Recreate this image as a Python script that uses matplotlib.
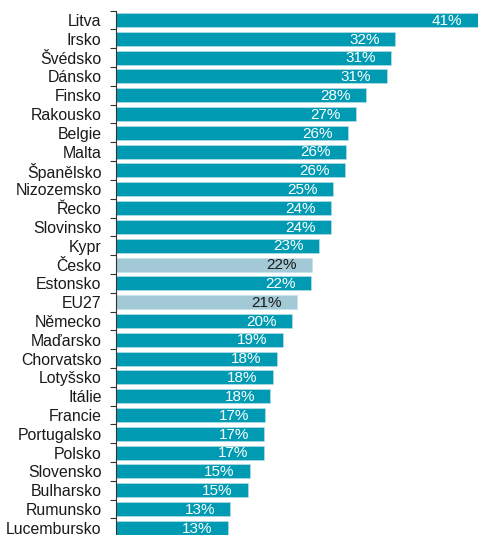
import numpy as np
import matplotlib.pyplot as plt
from matplotlib.ticker import FixedLocator

plt.rcParams['font.family'] = ['Liberation Sans', 'DejaVu Sans']

countries = ['Litva', 'Irsko', 'Švédsko', 'Dánsko', 'Finsko', 'Rakousko', 'Belgie',
             'Malta', 'Španělsko', 'Nizozemsko', 'Řecko', 'Slovinsko', 'Kypr', 'Česko',
             'Estonsko', 'EU27', 'Německo', 'Maďarsko', 'Chorvatsko', 'Lotyšsko',
             'Itálie', 'Francie', 'Portugalsko', 'Polsko', 'Slovensko', 'Bulharsko',
             'Rumunsko', 'Lucembursko']
values = [41.0, 31.7, 31.2, 30.7, 28.4, 27.2, 26.3, 26.1, 26.0, 24.6, 24.4, 24.4, 23.0,
          22.2, 22.1, 20.6, 20.0, 18.95, 18.3, 17.85, 17.55, 16.9, 16.85, 16.8, 15.2,
          14.95, 13.0, 12.75]
labels = ['41%', '32%', '31%', '31%', '28%', '27%', '26%', '26%', '26%', '25%', '24%',
          '24%', '23%', '22%', '22%', '21%', '20%', '19%', '18%', '18%', '18%', '17%',
          '17%', '17%', '15%', '15%', '13%', '13%']
highlight = ['Česko', 'EU27']

teal = '#009BB2'
light = '#A3C8D6'

fig = plt.figure(figsize=(4.78, 5.35), dpi=100)
ax = fig.add_axes([115.5 / 478, -2.3 / 535, 1 - 115.5 / 478, 526.7 / 535])

y = np.arange(len(countries))
colors = [light if c in highlight else teal for c in countries]
bars = ax.barh(y, values, height=0.745, color=colors, edgecolor='#bfe3ea', linewidth=0.4)

for b, lab, c in zip(bars, labels, countries):
    tc = '#1a1a1a' if c in highlight else 'white'
    ax.annotate(lab, (b.get_width(), b.get_y() + b.get_height() / 2),
                xytext=(-11, -0.5), textcoords='offset points',
                ha='right', va='center', fontsize=11, color=tc)

ax.set_ylim(len(countries) - 0.5, -0.5)
ax.set_xlim(0, 41.05)
ax.set_yticks(y)
ax.set_yticklabels(countries, fontsize=11.4, color='#1a1a1a')
ax.tick_params(axis='y', which='major', length=0, pad=10)
ax.yaxis.set_minor_locator(FixedLocator(np.arange(len(countries) + 1) - 0.5))
ax.tick_params(axis='y', which='minor', length=4, width=0.8, color='#333333')
ax.set_xticks([])
for s in ['top', 'right', 'bottom']:
    ax.spines[s].set_visible(False)
ax.spines['left'].set_linewidth(0.8)
ax.spines['left'].set_color('#333333')

fig.savefig('out.png', dpi=100)
